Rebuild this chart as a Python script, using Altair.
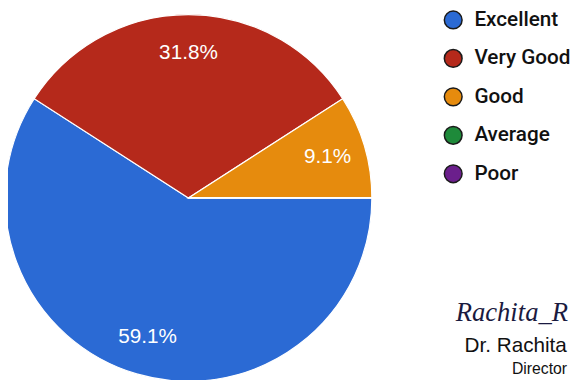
import altair as alt
import pandas as pd

categories = ["Excellent", "Very Good", "Good", "Average", "Poor"]
percents = [59.1, 31.8, 9.1, 0.0, 0.0]
colors = ["#2b6ad4", "#b5291b", "#e68b0d", "#1e8a3a", "#6b1f8c"]
signature_lines = ["Rachita_R", "Dr. Rachita", "Director"]

df = pd.DataFrame({
    "category": categories,
    "pct": percents,
    "order": list(range(len(categories))),
})
df["label"] = [f"{p:.1f}%" for p in percents]

CX, CY, R = 183, 190, 186

color_scale = alt.Scale(domain=categories, range=colors)
theta = alt.Theta("pct:Q", stack=True, scale=alt.Scale(range=[1.5708, 7.8540]))

base = alt.Chart(df).encode(
    theta=theta,
    order=alt.Order("order:Q"),
)

pie = base.mark_arc(outerRadius=R, stroke="white", strokeWidth=1.2).encode(
    x=alt.value(CX),
    y=alt.value(CY),
    color=alt.Color(
        "category:N",
        scale=color_scale,
        sort=categories,
        legend=alt.Legend(
            title=None,
            orient="none",
            legendX=441,
            legendY=-1,
            padding=0,
            symbolType="circle",
            symbolSize=324,
            symbolStrokeColor="#1a1a1a",
            symbolStrokeWidth=1.5,
            symbolOpacity=1,
            labelFont="Roboto",
            labelFontSize=21,
            labelFontWeight=500,
            labelColor="#111111",
            labelOffset=11,
            rowPadding=14,
        ),
    ),
)

labels = base.transform_filter("datum.pct > 0").mark_text(
    radius=147, font="Liberation Sans", fontSize=21, color="white",
    align="center", baseline="middle",
).encode(
    x=alt.value(CX),
    y=alt.value(CY),
    text="label:N",
)

sig_df = pd.DataFrame({"t": signature_lines, "i": [0, 1, 2]})
sig1 = alt.Chart(sig_df.iloc[[0]]).mark_text(
    font="Liberation Serif", fontStyle="italic", fontSize=27, align="left",
    baseline="alphabetic", color="#1a1a40",
).encode(x=alt.value(454), y=alt.value(315), text="t:N")
sig2 = alt.Chart(sig_df.iloc[[1]]).mark_text(
    font="Liberation Sans", fontSize=21, align="left", baseline="middle", color="#111111",
).encode(x=alt.value(463), y=alt.value(340), text="t:N")
sig3 = alt.Chart(sig_df.iloc[[2]]).mark_text(
    font="Liberation Sans", fontSize=16, align="left", baseline="middle", color="#111111",
).encode(x=alt.value(511), y=alt.value(364), text="t:N")

chart = alt.layer(pie, labels, sig1, sig2, sig3).properties(
    width=574, height=372, padding=0, autosize=alt.AutoSizeParams(type="none"),
    background="white",
).configure_view(stroke=None)

chart.save("out.html", embed_options={"renderer": "svg", "actions": False})
